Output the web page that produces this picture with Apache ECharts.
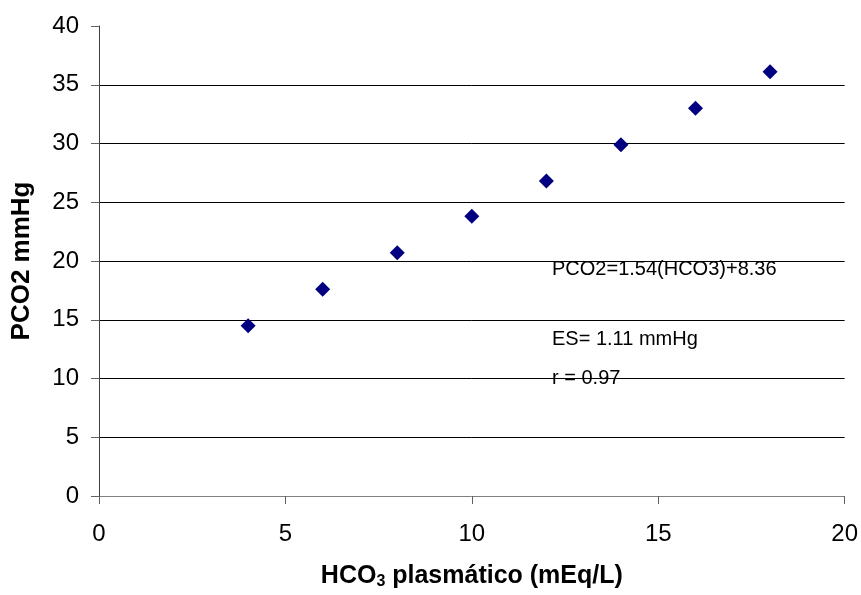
<!DOCTYPE html>
<html><head><meta charset="utf-8">
<script src="https://cdn.jsdelivr.net/npm/echarts@6/dist/echarts.min.js"></script>
<style>html,body{margin:0;padding:0;background:#fff}#c{width:861px;height:595px}</style>
</head><body><div id="c"></div>
<script>
const hco3 = [4, 6, 8, 10, 12, 14, 16, 18];
const pco2 = [14.5, 17.6, 20.7, 23.8, 26.8, 29.9, 33.0, 36.1];
const annotations = ['PCO2=1.54(HCO3)+8.36', 'ES= 1.11 mmHg', 'r = 0.97'];
const xTitleParts = ['HCO', '3', ' plasmático (mEq/L)'];
const yTitle = 'PCO2 mmHg';

const FONT = "'Liberation Sans', Arial, sans-serif";
const chart = echarts.init(document.getElementById('c'), null, {renderer: 'canvas'});
chart.setOption({
  animation: false,
  backgroundColor: '#fff',
  grid: {left: 99, right: 16, top: 26, bottom: 95, containLabel: false},
  xAxis: {
    type: 'value', min: 0, max: 20, interval: 5,
    name: '{b|' + xTitleParts[0] + '}{s|' + xTitleParts[1] + '}{b|' + xTitleParts[2] + '}',
    nameLocation: 'middle', nameGap: 66,
    nameTextStyle: {
      rich: {
        b: {fontFamily: FONT, fontWeight: 'bold', fontSize: 25, color: '#000', lineHeight: 28},
        s: {fontFamily: FONT, fontWeight: 'bold', fontSize: 16, color: '#000', lineHeight: 16, verticalAlign: 'bottom'}
      }
    },
    axisLine: {show: true, lineStyle: {color: '#808080', width: 1}},
    axisTick: {show: true, inside: false, length: 8, lineStyle: {color: '#606060'}},
    axisLabel: {fontFamily: FONT, fontSize: 24, color: '#000', margin: 26},
    splitLine: {show: false}
  },
  yAxis: {
    type: 'value', min: 0, max: 40, interval: 5,
    name: yTitle, nameLocation: 'middle', nameGap: 64, nameRotate: 90,
    nameTextStyle: {fontFamily: FONT, fontWeight: 'bold', fontSize: 26, color: '#000'},
    axisLine: {show: true, lineStyle: {color: '#404040', width: 1}},
    axisTick: {show: true, inside: false, length: 8, lineStyle: {color: '#606060'}},
    axisLabel: {fontFamily: FONT, fontSize: 24, color: '#000', margin: 20},
    splitLine: {show: true, lineStyle: {color: '#000', width: 1},
      showMinLine: false, showMaxLine: false}
  },
  series: [{
    type: 'scatter',
    data: hco3.map((x, i) => [x, pco2[i]]),
    symbol: 'diamond', symbolSize: [15, 15],
    itemStyle: {color: '#000080', opacity: 1},
    emphasis: {disabled: true}
  }],
  graphic: [
    {type: 'text', left: 552, top: 259, style: {text: annotations[0], font: '20px ' + FONT, fill: '#000'}},
    {type: 'text', left: 552, top: 329, style: {text: annotations[1], font: '20px ' + FONT, fill: '#000'}},
    {type: 'text', left: 552, top: 368, style: {text: annotations[2], font: '20px ' + FONT, fill: '#000'}}
  ]
});
</script></body></html>
